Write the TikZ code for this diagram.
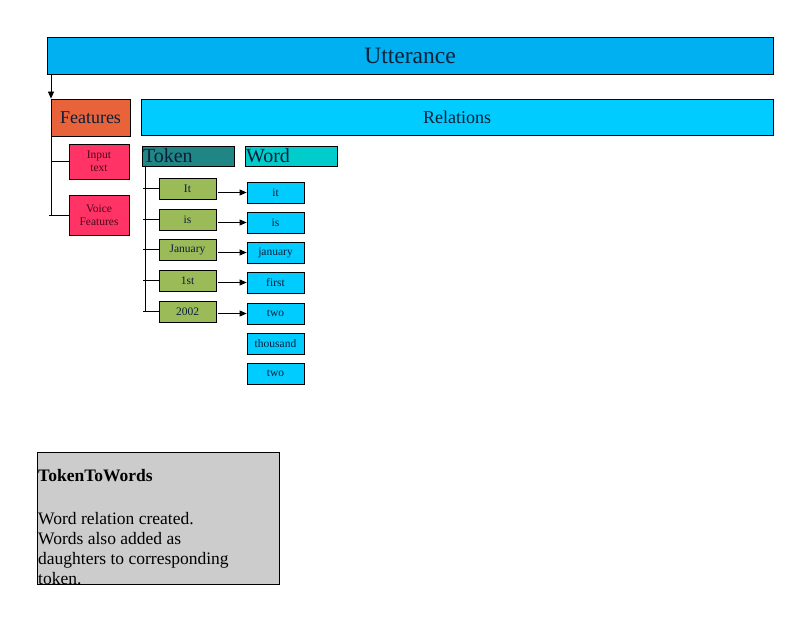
\documentclass[tikz,border=0pt]{standalone}
\usepackage{fontspec}
\setmainfont{Liberation Serif}
\usetikzlibrary{arrows.meta}
\definecolor{uttblue}{HTML}{00B0F0}
\definecolor{relcyan}{HTML}{00CCFF}
\definecolor{featorange}{HTML}{E8623A}
\definecolor{featpink}{HTML}{FF3366}
\definecolor{tokteal}{HTML}{1F8585}
\definecolor{wordcyan}{HTML}{00CCCC}
\definecolor{tokgreen}{HTML}{9BBB59}
\definecolor{notegray}{HTML}{CCCCCC}
\definecolor{txtdark}{HTML}{0A1F3A}
\definecolor{txtmaroon}{HTML}{4A0A1A}
\begin{document}
\begin{tikzpicture}[x=1pt,y=-1pt,
  boxbase/.style={draw=black, line width=0.8pt, inner sep=0pt, text=txtdark},
  tokbox/.style={boxbase, fill=tokgreen, minimum width=57pt, minimum height=21pt, font=\fontsize{11.5}{13}\selectfont},
  wordbox/.style={boxbase, fill=relcyan, minimum width=57pt, minimum height=21pt, font=\fontsize{11.5}{13}\selectfont},
  featbox/.style={boxbase, fill=featpink, minimum width=60pt, text=txtmaroon, align=center, font=\fontsize{11.5}{13}\selectfont},
  headbox/.style={boxbase, minimum width=92pt, minimum height=20pt, text width=90pt, inner xsep=1pt, align=left, font=\fontsize{20}{20}\selectfont},
  conn/.style={draw=black, line width=0.8pt},
  arr/.style={conn, -{Triangle[length=7pt,width=6pt]}}
]
\useasboundingbox (0,0) rectangle (800,620);
% top level
\node[boxbase, fill=uttblue, minimum width=726pt, minimum height=37pt, font=\fontsize{23.5}{25}\selectfont] (utt) at (410,55.5) {Utterance};
\node[boxbase, fill=featorange, minimum width=79pt, minimum height=37pt, font=\fontsize{18}{20}\selectfont] (feat) at (90.5,117.5) {Features};
\node[boxbase, fill=relcyan, minimum width=632pt, minimum height=36pt, font=\fontsize{18}{20}\selectfont] (rel) at (457,117) {Relations};
\coordinate (uttfoot) at (51,74);
\draw[arr] (uttfoot) -- (uttfoot |- feat.north);
% features
\node[featbox, minimum height=35pt] (input) at (99,161.5) {Input\\text};
\node[featbox, minimum height=40pt] (voice) at (99,215) {Voice\\Features};
\coordinate (ftop) at (51,136);
\coordinate (fbot) at (51,215);
\draw[conn] (ftop) -- (fbot);
\draw[conn] (ftop |- input.west) -- (input.west);
\draw[conn] ([xshift=-2pt]fbot) -- (voice.west);
% relation headers
\node[headbox, fill=tokteal] (tokhead) at (188,156) {Token};
\node[headbox, fill=wordcyan] (wordhead) at (291,156) {Word};
% tokens
\node[tokbox] (t1) at (187.5,188.5) {It};
\node[tokbox] (t2) at (187.5,219.5) {is};
\node[tokbox] (t3) at (187.5,249.5) {January};
\node[tokbox] (t4) at (187.5,280.5) {1st};
\node[tokbox] (t5) at (187.5,311.5) {2002};
% words
\node[wordbox] (w1) at (275.5,192.5) {it};
\node[wordbox] (w2) at (275.5,222.5) {is};
\node[wordbox] (w3) at (275.5,252.5) {january};
\node[wordbox] (w4) at (275.5,282.5) {first};
\node[wordbox] (w5) at (275.5,313.5) {two};
\node[wordbox] (w6) at (275.5,343.5) {thousand};
\node[wordbox] (w7) at (275.5,373.5) {two};
% token tree
\coordinate (ttop) at (145,166);
\draw[conn] (ttop) -- (ttop |- t5.west);
\foreach \t in {t1,t2,t3,t4,t5} {
  \draw[conn] ([xshift=-2pt]ttop |- \t.west) -- (\t.west);
}
% token -> word arrows
\foreach \t/\w in {t1/w1,t2/w2,t3/w3,t4/w4,t5/w5} {
  \draw[arr] ([xshift=2pt]\t.east |- \w.west) -- (\w.west);
}
% note
\node[draw=black, line width=0.8pt, fill=notegray, minimum width=242pt, minimum height=132pt, anchor=north west, inner sep=0pt] (note) at (37,452) {};
\node[anchor=base west, inner sep=0pt, font=\fontsize{17.5}{20}\selectfont\bfseries] (notetitle) at (38,481) {TokenToWords};
\node[anchor=base west, inner sep=0pt, align=left, font=\fontsize{17.5}{20}\selectfont] (notebody) at (38,584) {Word relation created.\\Words also added as\\daughters to corresponding\\token.};
\end{tikzpicture}
\end{document}
